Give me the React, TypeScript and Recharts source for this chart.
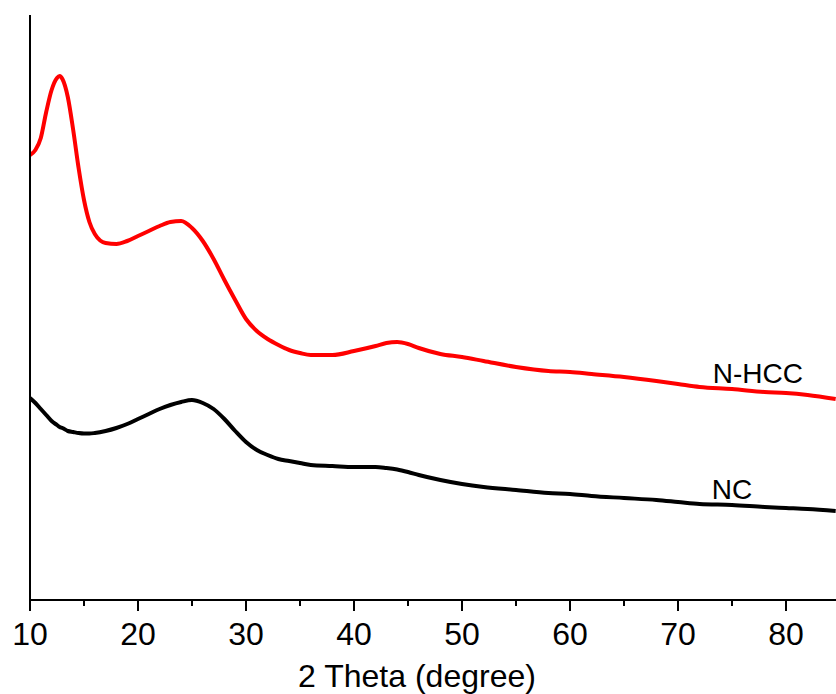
import { LineChart, Line, XAxis, YAxis, ReferenceDot } from 'recharts'

// 2-theta sample positions (degrees)
const THETA = [
  10, 10.5, 11, 11.5, 12, 12.5, 12.75, 13, 13.5, 14,
  14.5, 15, 15.5, 16, 17, 18, 19, 20, 21, 22,
  23, 24, 25, 26, 27, 28, 29, 30, 31, 32,
  33, 34, 35, 36, 38, 40, 42, 43, 44, 45,
  46, 48, 50, 52, 55, 58, 60, 62, 65, 68,
  70, 72, 75, 78, 80, 82, 84.6,
]

// intensities (a.u., offset stacked)
const NHCC = [
  445, 450, 462, 488, 510, 522, 524, 521, 503, 470,
  432, 400, 378, 366, 357, 356, 359, 364, 369, 374,
  378, 379, 372, 359, 341, 320, 300, 281, 269, 261,
  255, 250, 247, 245, 245, 249, 254, 257, 258, 256,
  252, 246, 243, 239, 233, 229, 228, 226, 223, 219,
  216, 213, 211, 208, 207, 205, 201,
]

const NC = [
  202, 197, 191, 185, 179, 175, 173, 172, 169, 168,
  167, 166.5, 166.5, 167, 169, 172, 176, 181, 186, 191,
  195, 198, 200, 197, 191, 181, 169, 158, 150, 145,
  141, 139, 137, 135, 134, 133, 133, 132, 130.5, 128,
  125, 120, 116, 113, 110, 107, 106, 104, 102, 100,
  98, 96, 95, 93, 92, 91, 89,
]

const TICKS = [10, 15, 20, 25, 30, 35, 40, 45, 50, 55, 60, 65, 70, 75, 80]

const data = THETA.map((t, i) => ({ t, nhcc: NHCC[i], nc: NC[i] }))

const FONT = 'Arial, "Liberation Sans", Helvetica, sans-serif'

function Tick(props: any) {
  const { x, y, payload } = props
  const major = payload.value % 10 === 0
  return (
    <g>
      <line x1={x} x2={x} y1={y} y2={y + (major ? 11 : 6)} stroke="#000" strokeWidth={2} />
      {major && (
        <text x={x} y={y + 45} textAnchor="middle" fontSize={32} fontFamily={FONT} fill="#000">
          {payload.value}
        </text>
      )}
    </g>
  )
}

function seriesLabel(text: string) {
  return (props: any) => {
    const { viewBox } = props
    const cx = viewBox.x + viewBox.width / 2
    const cy = viewBox.y + viewBox.height / 2
    return (
      <text x={cx} y={cy} textAnchor="middle" dominantBaseline="central" fontSize={28} fontFamily={FONT} fill="#000">
        {text}
      </text>
    )
  }
}

export default function App() {
  return (
    <div style={{ position: 'absolute', left: 0, top: 0, width: 836, height: 694, background: '#fff' }}>
      <LineChart width={836} height={694} data={data} margin={{ top: 15, right: 0, bottom: 0, left: 26 }}>
        <XAxis
          dataKey="t"
          type="number"
          domain={[10, 84.63]}
          allowDataOverflow
          ticks={TICKS}
          interval={0}
          tick={<Tick />}
          tickLine={false}
          tickSize={0}
          tickMargin={0}
          height={94}
          axisLine={{ stroke: '#000', strokeWidth: 2 }}
          label={(props: any) => {
            const vb = props.viewBox
            return (
              <text x={vb.x + vb.width / 2 - 16} y={687} textAnchor="middle" fontSize={32} fontFamily={FONT} fill="#000">
                2 Theta (degree)
              </text>
            )
          }}
        />
        <YAxis
          type="number"
          domain={[0, 585]}
          width={4}
          tick={false}
          tickLine={false}
          axisLine={{ stroke: '#000', strokeWidth: 2 }}
        />
        <Line type="monotone" dataKey="nhcc" stroke="#ff0000" strokeWidth={4} dot={false} isAnimationActive={false} />
        <Line type="monotone" dataKey="nc" stroke="#000000" strokeWidth={4} dot={false} isAnimationActive={false} />
        <ReferenceDot x={77.4} y={227} r={0} fill="none" stroke="none" label={seriesLabel('N-HCC')} />
        <ReferenceDot x={75.0} y={111} r={0} fill="none" stroke="none" label={seriesLabel('NC')} />
      </LineChart>
    </div>
  )
}
